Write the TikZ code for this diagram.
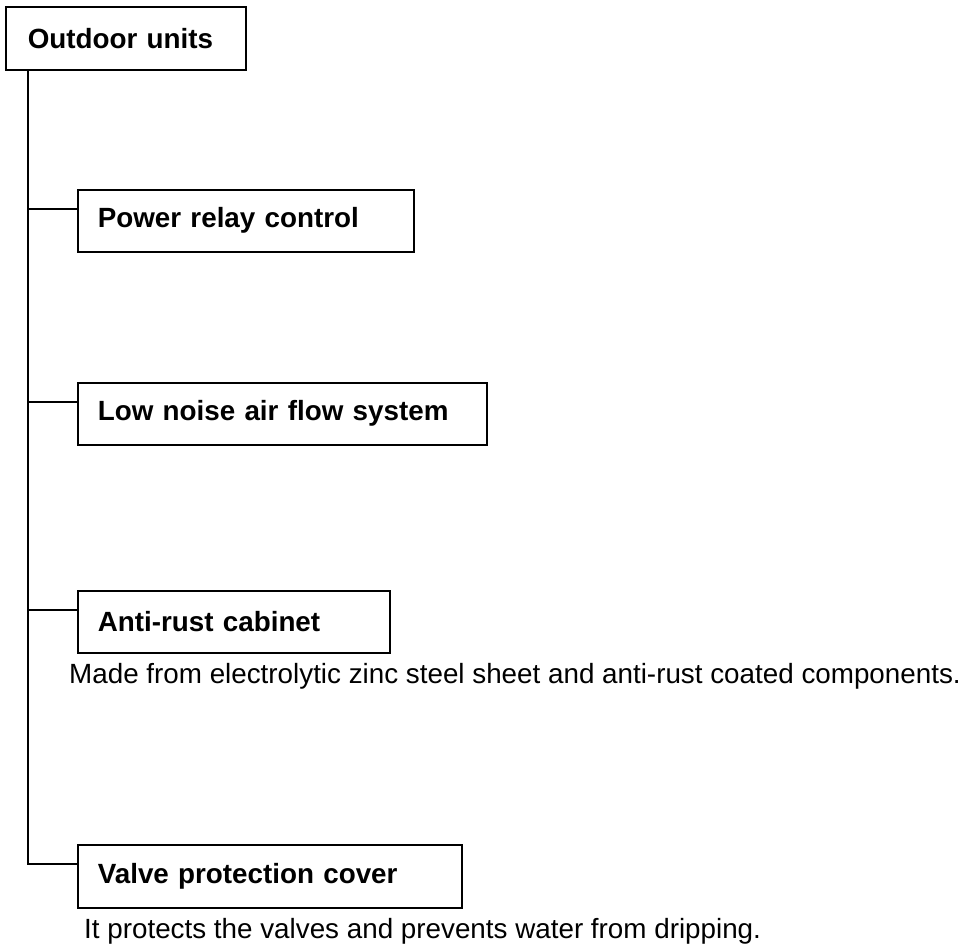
\documentclass[tikz,border=0pt]{standalone}
\usepackage{fontspec}
\setmainfont{Liberation Sans}
\usetikzlibrary{positioning, calc}

\begin{document}
\begin{tikzpicture}[x=1pt, y=-1pt,
    item/.style={rectangle, draw=black, line width=1.6pt, anchor=north west,
                 minimum height=62pt, inner xsep=20pt, text width=#1, align=left,
                 font=\fontsize{27.8}{32}\selectfont\bfseries},
    note/.style={anchor=base west, inner sep=0pt, font=\fontsize{27.8}{32}\selectfont},
    link/.style={line width=1.3pt}
]
\useasboundingbox (0,0) rectangle (969,949);

\node[item=196pt, inner xsep=22pt, minimum height=63pt] (units) at (5,6) {Outdoor units};
\node[item=296pt] (pwr)  at (77,189) {Power relay control};
\node[item=369pt] (low)  at (77,382) {Low noise air flow system};
\node[item=272pt] (anti) at (77,590) {Anti-rust cabinet};
\node[item=344pt, minimum height=63pt] (vlv) at (77,844) {Valve protection cover};

\node[note] (made) at (69,683) {Made from electrolytic zinc steel sheet and anti-rust coated components.};
\node[note] (prot) at (84,938) {It protects the valves and prevents water from dripping.};

% tree lines
\coordinate (trunk) at ([xshift=23pt]units.south west);
\foreach \n in {pwr, low, anti, vlv}
    \coordinate (\n-in) at ($(\n.north west)+(0,20)$);
\draw[link] (trunk) |- (vlv-in);
\foreach \n in {pwr, low, anti}
    \draw[link] (trunk |- \n-in) -- (\n-in);
\end{tikzpicture}
\end{document}
